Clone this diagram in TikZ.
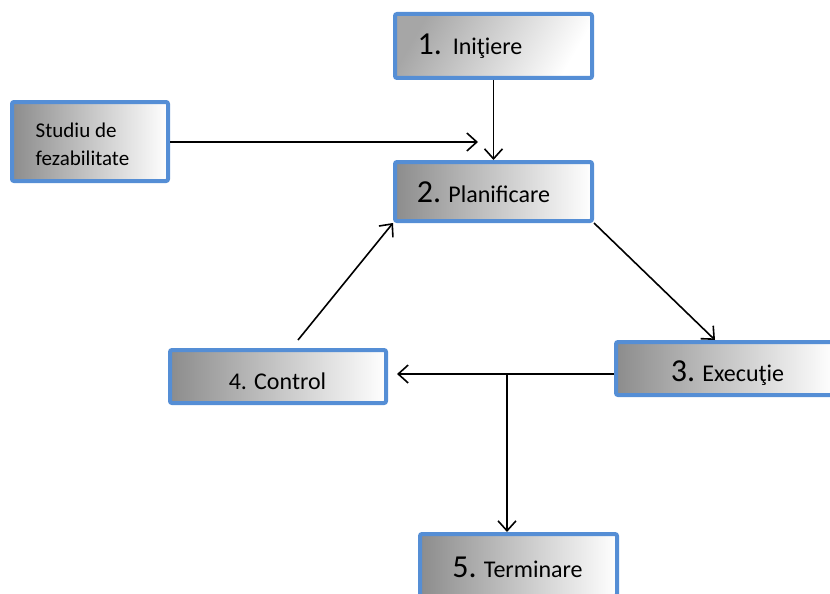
\documentclass[tikz,border=0pt]{standalone}
\usepackage{fontspec}
\setmainfont{Carlito}
\usetikzlibrary{arrows.meta}
\definecolor{boxblue}{RGB}{85,142,213}

\newcommand{\bignum}[1]{{\fontsize{32}{32}\selectfont #1}}

\begin{document}
\begin{tikzpicture}[x=1pt,y=-1pt,
  box/.style={draw=boxblue, line width=4pt, rounded corners=2pt, inner sep=0pt,
    left color=black!45, right color=white},
  txt/.style={font=\fontsize{24}{27}\selectfont, inner sep=0pt},
  arr/.style={-{Straight Barb[length=10pt,width=18pt]}, line width=1.6pt}]
  \useasboundingbox (0,0) rectangle (830,594);

  % boxes
  \node[box, minimum width=197pt, minimum height=64pt, left color=black!35, shading angle=60] (ini) at (493.5,46) {};
  \node[box, minimum width=156pt, minimum height=79pt] (stu) at (90,141.5) {};
  \node[box, minimum width=197pt, minimum height=59pt] (plan) at (493.5,191.5) {};
  \node[box, minimum width=216pt, minimum height=53pt] (ctrl) at (278,376.5) {};
  \node[box, minimum width=218pt, minimum height=53pt] (exec) at (725,368.5) {};
  \node[box, minimum width=197pt, minimum height=62pt] (term) at (518.5,565) {};

  % texts
  \node[txt] (ini-t) at (470,46) {\bignum{1.}\ \ Iniţiere};
  \node[txt, font=\fontsize{21}{28}\selectfont, align=left] (stu-t) at (82.5,144) {Studiu de\\fezabilitate};
  \node[txt] (plan-t) at (483.5,192) {\bignum{2.} Planificare};
  \node[txt, font=\fontsize{24}{27}\selectfont] (ctrl-t) at (277.5,381) {4. Control};
  \node[txt] (exec-t) at (727.5,373) {\bignum{3.} Execuţie};
  \node[txt] (term-t) at (517.5,567) {\bignum{5.} Terminare};

  % connectors
  \coordinate (stu-end) at (478,142);
  \coordinate (ctrl-in) at (397,374);
  \coordinate (br) at (507,374);

  \draw[arr] (ini) -- (plan);
  \draw[arr] (stu.east |- stu-end) -- (stu-end);
  \draw[arr] ([shift={(20,-8)}]ctrl.north) -- (plan.south west);
  \draw[arr] (plan.south east) -- ([xshift=-10pt]exec.north);
  \draw[arr] (exec.west |- ctrl-in) -- (ctrl-in);
  \draw[arr] (br) -- (br |- term.north);

\end{tikzpicture}
\end{document}
